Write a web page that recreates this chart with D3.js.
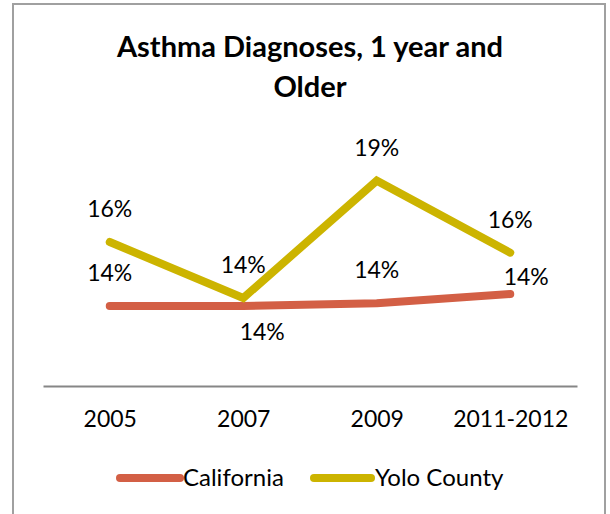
<!DOCTYPE html>
<meta charset="utf-8">
<script src="https://d3js.org/d3.v7.min.js"></script>
<html>
  <head>
    <style>
    body { margin: 0; background: #fff; }
    text { font-family: Lato, "Noto Sans", sans-serif; fill: #000; }
    </style>
  </head>
  <body>
    <div id="chart"></div>
  </body>
</html>
<script>

// data
var years = ["2005", "2007", "2009", "2011-2012"];
var california = [0.140, 0.140, 0.141, 0.1445];
var yolo = [0.164, 0.143, 0.187, 0.160];
var seriesNames = ["California", "Yolo County"];

var width = 610, height = 514;

var svg = d3.select("#chart")
  .append("svg")
    .attr("width", width)
    .attr("height", height);

// chart border
svg.append("rect")
  .attr("x", 13).attr("y", 4)
  .attr("width", 592).attr("height", 520)
  .attr("fill", "#fff")
  .attr("stroke", "#a0a0a0")
  .attr("stroke-width", 2);

// title
var title = svg.append("text")
  .attr("text-anchor", "middle")
  .style("font-weight", "bold")
  .style("font-size", "29px");
title.append("tspan").attr("x", 310).attr("y", 57).text("Asthma Diagnoses, 1 year and");
title.append("tspan").attr("x", 310).attr("y", 97).text("Older");

// scales
var x = d3.scalePoint()
  .domain(years)
  .range([43, 577])
  .padding(0.5);

var y = d3.scaleLinear()
  .domain([0.11, 0.20])
  .range([386, 146]);

// x axis
var xAxis = svg.append("g")
  .attr("transform", "translate(0,386)")
  .call(d3.axisBottom(x).tickSize(0).tickPadding(25));
xAxis.select(".domain").attr("stroke", "#868686").attr("stroke-width", 2);
xAxis.selectAll("text")
  .style("font-size", "23px")
  .style("font-family", "Lato, 'Noto Sans', sans-serif")
  .attr("fill", "#000");

var colors = {"California": "#d35f45", "Yolo County": "#ccb400"};

var line = d3.line()
  .x(function(d, i) { return x(years[i]); })
  .y(function(d) { return y(d); });

// lines
svg.append("path")
  .datum(california)
  .attr("d", line)
  .attr("fill", "none")
  .attr("stroke", colors["California"])
  .attr("stroke-width", 8)
  .attr("stroke-linecap", "round")
  .attr("stroke-linejoin", "round");

svg.append("path")
  .datum(yolo)
  .attr("d", line)
  .attr("fill", "none")
  .attr("stroke", colors["Yolo County"])
  .attr("stroke-width", 8)
  .attr("stroke-linecap", "round")
  .attr("stroke-linejoin", "miter");

// data labels
var yoloPlace = ["above", "above", "above", "above"];
var caPlace = ["above", "below", "above", "right"];

function labelPos(place) {
  if (place === "below") return {dx: 19, dy: 34};
  if (place === "right") return {dx: 16, dy: -9};
  return {dx: 0, dy: -25};
}

function addLabels(values, places) {
  svg.append("g")
    .selectAll("text")
    .data(values)
    .enter()
    .append("text")
      .attr("text-anchor", "middle")
      .style("font-size", "23px")
      .attr("x", function(d, i) { return x(years[i]) + labelPos(places[i]).dx; })
      .attr("y", function(d, i) { return y(d) + labelPos(places[i]).dy; })
      .text(function(d) { return d3.format(".0%")(d); });
}
addLabels(yolo, yoloPlace);
addLabels(california, caPlace);

// legend
var legendX = [120, 314];
var legend = svg.append("g")
  .selectAll("g")
  .data(seriesNames)
  .enter()
  .append("g")
    .attr("transform", function(d, i) { return "translate(" + legendX[i] + ",478)"; });

legend.append("line")
  .attr("x1", 0).attr("x2", function(d, i) { return i === 0 ? 60 : 57; })
  .attr("y1", 0).attr("y2", 0)
  .attr("stroke", function(d) { return colors[d]; })
  .attr("stroke-width", 8)
  .attr("stroke-linecap", "round");

legend.append("text")
  .attr("x", function(d, i) { return i === 0 ? 63 : 61; })
  .attr("y", 8)
  .style("font-size", "24px")
  .text(function(d) { return d; });

</script>
